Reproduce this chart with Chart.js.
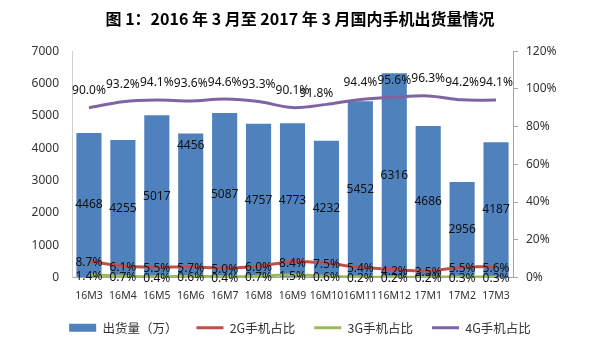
<!DOCTYPE html>
<html><head><meta charset="utf-8">
<script src="https://cdn.jsdelivr.net/npm/chart.js@4"></script>
<style>html,body{margin:0;padding:0;background:#fff}#wrap{width:600px;height:357px;position:relative}</style>
</head><body><div id="wrap"><canvas id="c"></canvas></div>
<script>
const titleText = '图 1：2016 年 3 月至 2017 年 3 月国内手机出货量情况';
const categories = ['16M3','16M4','16M5','16M6','16M7','16M8','16M9','16M10','16M11','16M12','17M1','17M2','17M3'];
const shipments = [4468,4255,5017,4456,5087,4757,4773,4232,5452,6316,4686,2956,4187];
const share2G = [8.7,6.1,5.5,5.7,5.0,6.0,8.4,7.5,5.4,4.2,3.5,5.5,5.6];
const share3G = [1.4,0.7,0.4,0.6,0.4,0.7,1.5,0.6,0.2,0.2,0.2,0.3,0.3];
const share4G = [90.0,93.2,94.1,93.6,94.6,93.3,90.1,91.8,94.4,95.6,96.3,94.2,94.1];
const seriesNames = ['出货量（万）','2G手机占比','3G手机占比','4G手机占比'];
const leftAxis = {min:0,max:7000,step:1000};
const rightAxis = {min:0,max:120,step:20};

const labelFont = '12px "Noto Sans", "Open Sans", sans-serif';

const valueLabels = {
  id:'valueLabels',
  afterDatasetsDraw(chart){
    const ctx = chart.ctx;
    ctx.save();
    ctx.font = labelFont;
    ctx.fillStyle = '#111';
    ctx.textAlign = 'center';
    ctx.textBaseline = 'middle';
    chart.data.datasets.forEach((ds, di) => {
      const meta = chart.getDatasetMeta(di);
      meta.data.forEach((el, i) => {
        const v = ds.data[i];
        if (ds.type === 'bar') {
          let y = (el.y + el.base) / 2;
          if (i === 3) y = el.y + 12;
          ctx.fillText(String(v), el.x, y);
        } else {
          let dx = 0, dy = ds.labelDy;
          if (di === 3 && i === 7) { dx = -10; dy = -11; }
          ctx.fillText(v.toFixed(1) + '%', el.x + dx, el.y + dy);
        }
      });
    });
    ctx.restore();
  }
};

new Chart(document.getElementById('c'), {
  data: {
    labels: categories,
    datasets: [
      {type:'bar', label:seriesNames[0], data:shipments, yAxisID:'y', backgroundColor:'#4F81BD', borderWidth:0, barPercentage:0.74, categoryPercentage:1, order:2, pointStyle:'rect'},
      {type:'line', label:seriesNames[1], data:share2G, yAxisID:'y1', borderColor:'#C0504D', backgroundColor:'#C0504D', borderWidth:3, pointRadius:0, tension:0.35, order:1, pointStyle:'line', labelDy:1.5},
      {type:'line', label:seriesNames[2], data:share3G, yAxisID:'y1', borderColor:'#9BBB59', backgroundColor:'#9BBB59', borderWidth:3, pointRadius:0, tension:0.35, order:1, pointStyle:'line', labelDy:1.5},
      {type:'line', label:seriesNames[3], data:share4G, yAxisID:'y1', borderColor:'#8064A2', backgroundColor:'#8064A2', borderWidth:3, pointRadius:0, tension:0.35, order:1, pointStyle:'line', labelDy:-17}
    ]
  },
  options: {
    responsive:true, maintainAspectRatio:false, animation:false,
    layout:{padding:{top:0,bottom:13,left:0,right:0}},
    plugins:{
      tooltip:{enabled:false},
      title:{display:true, text:titleText, color:'#000',
        font:{family:'"Noto Sans CJK SC", sans-serif', size:16, weight:'bold', lineHeight:1.2},
        padding:{top:9,bottom:23}},
      legend:{position:'bottom',
        labels:{usePointStyle:true, pointStyleWidth:27, boxHeight:8, padding:19, color:'#333',
          sort:(a,b)=>a.datasetIndex-b.datasetIndex,
          font:{family:'"Noto Sans CJK SC", sans-serif', size:12.5, lineHeight:1.15}}}
    },
    scales:{
      x:{type:'category', offset:true,
        grid:{display:true, drawOnChartArea:false, drawTicks:false},
        border:{display:true, color:'#A6A6A6', width:1},
        ticks:{color:'#333', padding:12, maxRotation:0, autoSkip:false, font:{family:'"Noto Sans", sans-serif', size:10.5, lineHeight:1.2}},
        afterFit(s){ s.height = 25; }
      },
      y:{type:'linear', position:'left', min:leftAxis.min, max:leftAxis.max,
        grid:{display:true, drawOnChartArea:false, drawTicks:false},
        border:{display:true, color:'#D0D0D0', width:1},
        ticks:{stepSize:leftAxis.step, color:'#333', padding:13, font:{family:'"Noto Sans", sans-serif', size:12},
          callback:(v)=> String(v)},
        afterFit(s){ s.width = 72; }
      },
      y1:{type:'linear', position:'right', min:rightAxis.min, max:rightAxis.max,
        grid:{display:true, drawOnChartArea:false, drawTicks:true, tickLength:5, color:'#A6A6A6'},
        border:{display:true, color:'#A6A6A6', width:1},
        ticks:{stepSize:rightAxis.step, color:'#333', padding:8, font:{family:'"Noto Sans", sans-serif', size:12},
          callback:(v)=> v + '%'},
        afterFit(s){ s.width = 87; }
      }
    }
  },
  plugins:[valueLabels]
});
</script>
</body></html>
